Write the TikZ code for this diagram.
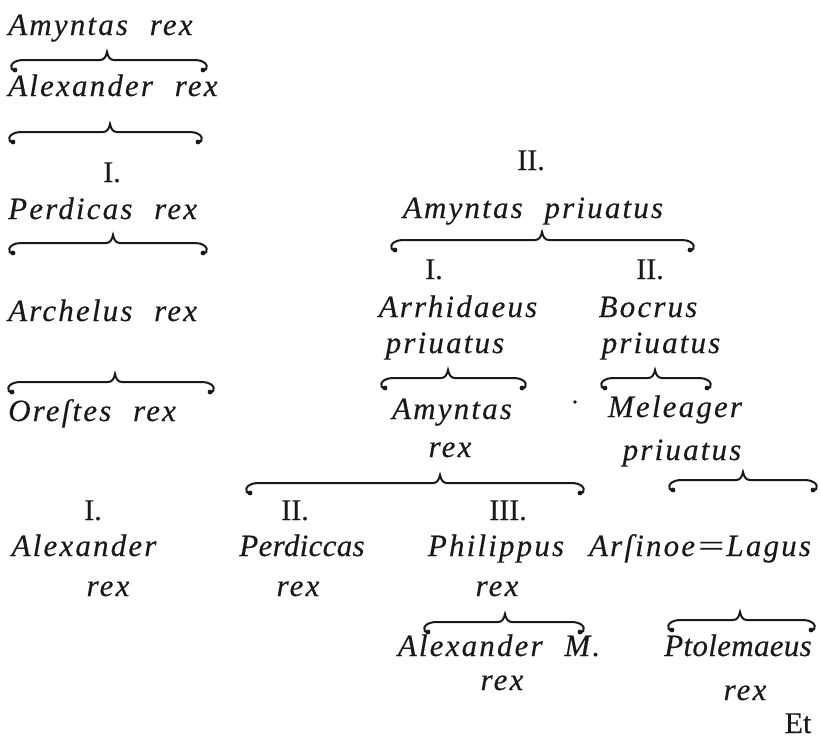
\documentclass[tikz,border=0pt]{standalone}
\usepackage{fontspec}
\usepackage{graphicx}
\setmainfont{Liberation Serif}
\newfontfamily\olditfont[LetterSpace=7,WordSpace=2.2,FakeBold=0.3]{Liberation Serif Italic}
\newfontfamily\oldrmfont[FakeBold=0.4]{Liberation Serif}
\newcommand{\ebrace}[4]{%
  \draw[bracepath] ({#1+5},{#3+11}) .. controls ({#1-1},{#3+10}) and ({#1-1},{#3+1}) .. ({#1+12},{#3})
    -- ({#4-7},{#3}) .. controls ({#4-3},{#3}) and ({#4-1},{#3-3}) .. ({#4},{#3-8})
    .. controls ({#4+1},{#3-3}) and ({#4+3},{#3}) .. ({#4+7},{#3})
    -- ({#2-12},{#3}) .. controls ({#2+1},{#3+1}) and ({#2+1},{#3+10}) .. ({#2-5},{#3+11});
  \fill[black!90] ({#1+5},{#3+10}) circle (2.4pt);
  \fill[black!90] ({#2-5},{#3+10}) circle (2.4pt);
}
\begin{document}
\begin{tikzpicture}[x=1pt,y=-1pt,
  txt/.style={font=\fontsize{31}{33}\olditfont, inner sep=0pt, anchor=base, text=black!90},
  tight/.style={font=\fontsize{31}{33}\olditfont\addfontfeature{LetterSpace=1}},
  numlbl/.style={font=\fontsize{30}{32}\oldrmfont, inner sep=0pt, anchor=base, text=black!90},
  bracepath/.style={line width=2pt, line cap=round, draw=black!90}]
\useasboundingbox (0,0) rectangle (821,744);
% left column
\node[txt, anchor=base west] (amyntasA) at (8,35) {Amyntas rex};
\node[txt, anchor=base west] (alexA) at (8,96) {Alexander rex};
\node[numlbl] (numIa) at (112,182) {I.};
\node[txt, anchor=base west] (perdA) at (8,219) {Perdicas rex};
\node[txt, anchor=base west] (arch) at (8,321) {Archelus rex};
\node[txt, anchor=base west] (orest) at (8,421) {Oreſtes rex};
\ebrace{10}{208}{60}{107}
\ebrace{8}{203}{132}{110}
\ebrace{8}{208}{243}{113}
\ebrace{7}{215}{382}{115}
% middle
\node[numlbl] (numIIa) at (531,170) {II.};
\node[txt] (amyP) at (533,218) {Amyntas priuatus};
\ebrace{390}{695}{240}{542}
\node[numlbl] (numIb) at (434,279) {I.};
\node[numlbl] (numIIb) at (650,279) {II.};
\node[txt] (arrh) at (458,317) {Arrhidaeus};
\node[txt] (arrhP) at (445,353) {priuatus};
\node[txt] (boc) at (648,317) {Bocrus};
\node[txt] (bocP) at (661,353) {priuatus};
\ebrace{380}{527}{378}{448}
\ebrace{600}{712}{378}{655}
\node[txt] (amyB) at (452,419) {Amyntas};
\node[txt] (amyBr) at (450,457) {rex};
\node[txt] (mel) at (675,417) {Meleager};
\node[txt] (melP) at (682,460) {priuatus};
\fill[black!90] (575,402) circle (1.8pt);
\ebrace{245}{585}{483}{440}
\ebrace{668}{818}{480}{743}
% bottom rows
\node[numlbl] (numIc) at (93,520) {I.};
\node[numlbl] (numIIc) at (295,520) {II.};
\node[numlbl] (numIIIc) at (508,520) {III.};
\node[txt] (alexB) at (84,556) {Alexander};
\node[txt] (alexBr) at (108,596) {rex};
\node[txt, tight] (perdB) at (302,556) {Perdiccas};
\node[txt] (perdBr) at (298,596) {rex};
\node[txt] (phil) at (496,556) {Philippus};
\node[txt] (philr) at (497,596) {rex};
\node[txt] (arsin) at (700,556) {Arſinoe\scalebox{1.5}[1]{=}Lagus};
\ebrace{423}{585}{622}{505}
\ebrace{667}{816}{620}{740}
\node[txt] (alexM) at (499,656) {Alexander M.};
\node[txt] (alexMr) at (502,690) {rex};
\node[txt, tight] (ptol) at (738,656) {Ptolemaeus};
\node[txt] (ptolr) at (745,700) {rex};
\node[numlbl] (et) at (798,733) {Et};
\end{tikzpicture}
\end{document}
